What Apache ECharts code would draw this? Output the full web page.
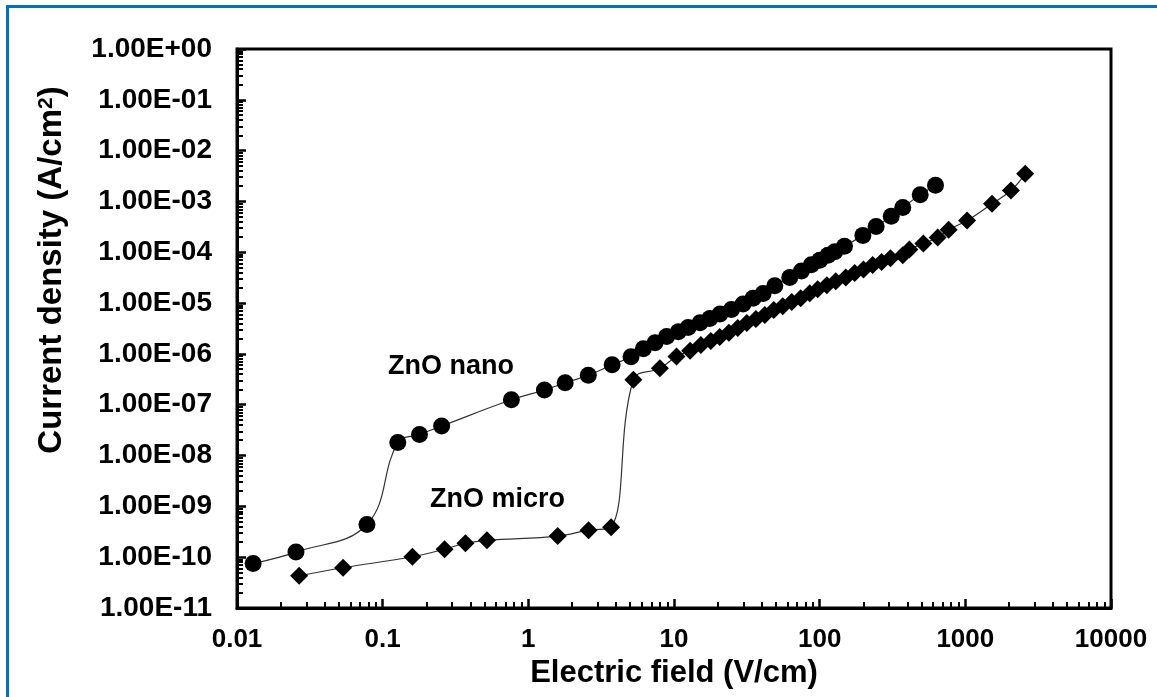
<!DOCTYPE html>
<html>
<head>
<meta charset="utf-8">
<script src="https://cdn.jsdelivr.net/npm/echarts/dist/echarts.min.js"></script>
<style>
  html, body { margin: 0; padding: 0; background: #fff; }
  #wrap { position: relative; width: 1157px; height: 697px; overflow: hidden; }
  #frame { position: absolute; left: 6px; top: 5px; width: 1170px; height: 720px; border: 3px solid #0070C0; box-sizing: border-box; }
  #chart { position: absolute; left: 0; top: 0; width: 1157px; height: 697px; }
</style>
</head>
<body>
<div id="wrap">
  <div id="frame"></div>
  <div id="chart"></div>
</div>
<script>
// electric field (V/cm) vs current density (A/cm2)
const nanoX = [0.0129, 0.0254, 0.078, 0.127, 0.179, 0.254, 0.765, 1.29, 1.79, 2.58, 3.76, 5.07,
  6.16, 7.41, 8.9, 10.7, 12.5, 15.1, 17.6, 20.7, 24.8, 29.8, 34.9, 40.9, 49.2, 62.3, 75, 87.7,
  100, 114, 127, 148, 198, 244, 310, 372, 490, 624];
const nanoY = [7.5e-11, 1.26e-10, 4.4e-10, 1.8e-8, 2.6e-8, 3.8e-8, 1.25e-7, 1.95e-7, 2.7e-7, 3.8e-7, 6.1e-7, 8.8e-7,
  1.26e-6, 1.66e-6, 2.19e-6, 2.74e-6, 3.3e-6, 4.1e-6, 5.0e-6, 6.1e-6, 7.5e-6, 9.6e-6, 1.24e-5, 1.55e-5, 2.2e-5, 3.2e-5, 4.3e-5, 5.7e-5,
  7.0e-5, 8.7e-5, 1.02e-4, 1.31e-4, 2.15e-4, 3.2e-4, 5.1e-4, 7.6e-4, 1.35e-3, 2.09e-3];

const microX = [0.0267, 0.0535, 0.16, 0.266, 0.37, 0.52, 1.59, 2.59, 3.7, 5.26, 8.0, 10.4,
  12.9, 15.3, 17.9, 20.6, 23.8, 27.4, 31.6, 36.5, 42.0, 48.4, 55.8, 64.3, 74.1, 85.5, 96.9,
  112, 129, 151, 174, 200, 231, 266, 306, 372, 413, 515, 646, 769, 1028, 1524, 2056, 2576];
const microY = [4.3e-11, 6.2e-11, 1.02e-10, 1.44e-10, 1.88e-10, 2.15e-10, 2.6e-10, 3.4e-10, 3.9e-10, 3.1e-7, 5.2e-7, 8.9e-7,
  1.15e-6, 1.5e-6, 1.8e-6, 2.15e-6, 2.6e-6, 3.24e-6, 4.05e-6, 4.86e-6, 5.8e-6, 7.3e-6, 8.7e-6, 1.05e-5, 1.25e-5, 1.57e-5, 1.88e-5,
  2.25e-5, 2.7e-5, 3.2e-5, 3.9e-5, 4.6e-5, 5.6e-5, 6.4e-5, 7.6e-5, 8.7e-5, 1.13e-4, 1.48e-4, 1.95e-4, 2.79e-4, 4.2e-4, 9.0e-4, 1.64e-3, 3.5e-3];

const xTickLabels = ['0.01', '0.1', '1', '10', '100', '1000', '10000'];
const yTickLabels = ['1.00E-11', '1.00E-10', '1.00E-09', '1.00E-08', '1.00E-07', '1.00E-06',
  '1.00E-05', '1.00E-04', '1.00E-03', '1.00E-02', '1.00E-01', '1.00E+00'];
const minorSteps = [2, 3, 4, 5, 6, 7, 8, 9];

const FONT = 'Liberation Sans, Arial, sans-serif';
const pairs = (xs, ys) => xs.map((x, i) => [x, ys[i]]);

// minor tick values 2..9 within each decade (Excel-style log ticks)
function minorValues(lo, hi) {
  const out = [];
  for (let e = lo; e < hi; e++) minorSteps.forEach(m => out.push(m * Math.pow(10, e)));
  return out;
}

const chart = echarts.init(document.getElementById('chart'));

const lineStyle = { color: '#333', width: 1.2 };
const majorTick = { show: true, inside: true, length: 9, lineStyle: { color: '#000', width: 2.5 } };
const minorTickStyle = (vals) => ({ show: true, inside: true, length: 6, customValues: vals, lineStyle: { color: '#000', width: 2 } });
const bold = { color: '#000', fontFamily: FONT, fontWeight: 'bold' };

chart.setOption({
  animation: false,
  grid: {
    left: 237, right: 46, top: 49, bottom: 89,
    show: true, borderColor: '#000', borderWidth: 3
  },
  xAxis: [
    {
      type: 'log', logBase: 10, min: 0.01, max: 10000, position: 'bottom',
      axisLine: { show: true, lineStyle: { color: '#000', width: 3 } },
      axisTick: majorTick,
      splitLine: { show: false },
      axisLabel: {
        ...bold, margin: 19, fontSize: 26,
        formatter: v => xTickLabels[Math.round(Math.log10(v)) + 2]
      },
      name: 'Electric field (V/cm)', nameLocation: 'middle', nameGap: 44,
      nameTextStyle: { ...bold, fontSize: 31 }
    },
    {
      // overlay axis carrying only the minor ticks
      type: 'log', logBase: 10, min: 0.01, max: 10000, position: 'bottom', offset: 0,
      axisLine: { show: false },
      axisTick: minorTickStyle(minorValues(-2, 4)),
      axisLabel: { show: false },
      splitLine: { show: false }
    }
  ],
  yAxis: [
    {
      type: 'log', logBase: 10, min: 1e-11, max: 1, interval: 1, position: 'left',
      axisLine: { show: true, lineStyle: { color: '#000', width: 3 } },
      axisTick: majorTick,
      splitLine: { show: false },
      axisLabel: {
        ...bold, margin: 25, fontSize: 28,
        formatter: v => yTickLabels[Math.round(Math.log10(v)) + 11]
      }
    },
    {
      type: 'log', logBase: 10, min: 1e-11, max: 1, position: 'left', offset: 0,
      axisLine: { show: false },
      axisTick: minorTickStyle(minorValues(-11, 0)),
      axisLabel: { show: false },
      splitLine: { show: false }
    }
  ],
  graphic: [
    {
      type: 'text', x: 52, y: 270, rotation: Math.PI / 2,
      style: {
        text: '{a|Current density (A/cm}{s|2}{a|)}',
        align: 'center', verticalAlign: 'middle', fill: '#000',
        rich: {
          a: { ...bold, fontSize: 33, fill: '#000' },
          s: { ...bold, fontSize: 21, fill: '#000', verticalAlign: 'top' }
        }
      }
    },
    {
      type: 'text', left: 388, top: 353,
      style: { text: 'ZnO nano', fontFamily: FONT, fontWeight: 'bold', fontSize: 27, fill: '#000' }
    },
    {
      type: 'text', left: 430, top: 486,
      style: { text: 'ZnO micro', fontFamily: FONT, fontWeight: 'bold', fontSize: 27, fill: '#000' }
    }
  ],
  series: [
    {
      name: 'ZnO nano', type: 'line', data: pairs(nanoX, nanoY),
      smooth: 0.4, symbol: 'circle', symbolSize: 17,
      itemStyle: { color: '#000' }, lineStyle: lineStyle
    },
    {
      name: 'ZnO micro', type: 'line', data: pairs(microX, microY),
      smooth: 0.4, symbol: 'diamond', symbolSize: 18,
      itemStyle: { color: '#000' }, lineStyle: lineStyle
    }
  ]
});
</script>
</body>
</html>
